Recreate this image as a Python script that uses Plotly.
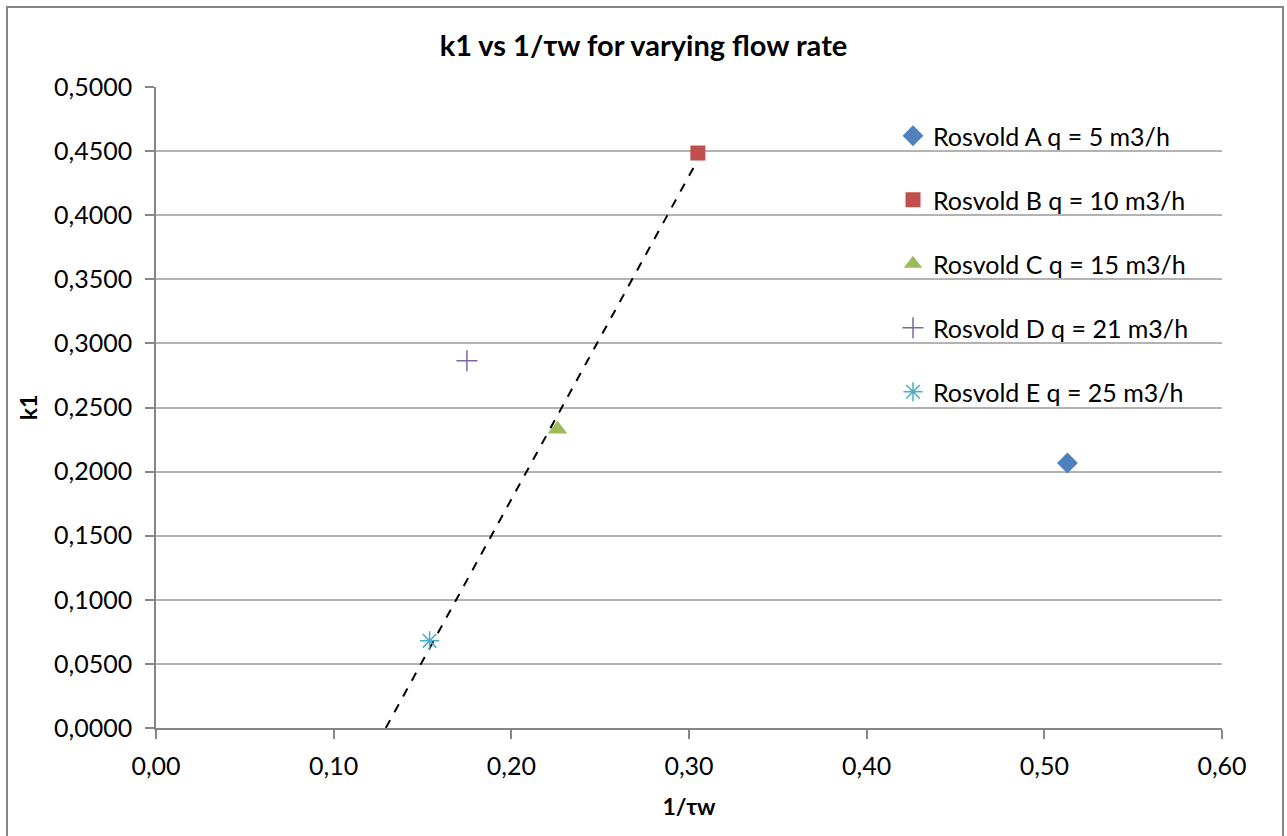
import numpy as np
import plotly.graph_objects as go

# Data
series_names = ["Rosvold A q = 5 m3/h", "Rosvold B q = 10 m3/h", "Rosvold C q = 15 m3/h",
                "Rosvold D q = 21 m3/h", "Rosvold E q = 25 m3/h"]
x_inv_tau = [0.513, 0.305, 0.226, 0.175, 0.154]
k1_values = [0.2067, 0.4485, 0.2330, 0.2865, 0.0680]
colors = ["#4F81BD", "#C0504D", "#9BBB59", "#8064A2", "#4BACC6"]
symbols = ["diamond", "square", "triangle-up", "cross-thin-open", "asterisk-open"]
sizes = [16, 15, 17, 15, 16]

# Trendline through B, C, E
trend_idx = [1, 2, 4]
x_tick_vals = [0.0, 0.1, 0.2, 0.3, 0.4, 0.5, 0.6]
x_tick_text = ["0,00", "0,10", "0,20", "0,30", "0,40", "0,50", "0,60"]
y_tick_vals = [0.0, 0.05, 0.1, 0.15, 0.2, 0.25, 0.3, 0.35, 0.4, 0.45, 0.5]
y_tick_text = ["0,0000", "0,0500", "0,1000", "0,1500", "0,2000", "0,2500",
               "0,3000", "0,3500", "0,4000", "0,4500", "0,5000"]

FONT = "Lato, 'Open Sans', sans-serif"

fig = go.Figure()

tx = np.array([x_inv_tau[i] for i in trend_idx])
ty = np.array([k1_values[i] for i in trend_idx])
slope, intercept = np.polyfit(tx, ty, 1)
x0 = -intercept / slope
x1 = tx.max()
fig.add_trace(go.Scatter(x=[x0, x1], y=[slope * x0 + intercept, slope * x1 + intercept],
                         mode="lines", line=dict(color="black", width=2, dash="dash"),
                         showlegend=False, hoverinfo="skip"))

for i, name in enumerate(series_names):
    thin = symbols[i].endswith("-open")
    fig.add_trace(go.Scatter(
        x=[x_inv_tau[i]], y=[k1_values[i]], mode="markers", name=name,
        legendgroup=f"g{i}",
        marker=dict(symbol=symbols[i], size=sizes[i], color=colors[i],
                    line=dict(color=colors[i], width=1.5 if thin else 0)),
    ))

L, R, T, B = 156, 65, 87, 108
W, H = 1287, 836
pw, ph = W - L - R, H - T - B

def px_x(p):
    return (p - L) / pw

def px_y(p):
    return (H - B - p) / ph

fig.update_layout(
    width=W, height=H,
    margin=dict(l=L, r=R, t=T, b=B),
    paper_bgcolor="white", plot_bgcolor="white",
    font=dict(family=FONT, size=25, color="black"),
    title=dict(text="<b>k1 vs 1/τw for varying flow rate</b>", x=0.5, xanchor="center",
               y=1 - 46 / H, yanchor="middle", font=dict(size=29, family=FONT)),
    xaxis=dict(range=[0, 0.6], tickvals=x_tick_vals, ticktext=x_tick_text,
               showgrid=False, zeroline=False, showline=True, linecolor="#868686", linewidth=1.5,
               ticks="outside", ticklen=9, tickcolor="#868686", tickwidth=1.5,
               ticklabelstandoff=6,
               title=dict(text="<b>1/τw</b>", font=dict(size=23), standoff=20)),
    yaxis=dict(range=[0, 0.5], tickvals=y_tick_vals, ticktext=y_tick_text,
               showgrid=True, gridcolor="#B3B3B3", gridwidth=1.5,
               zeroline=False, showline=True, linecolor="#868686", linewidth=1.5,
               ticks="outside", ticklen=9, tickcolor="#868686", tickwidth=1.5,
               ticklabelstandoff=8,
               title=dict(text="<b>k1</b>", font=dict(size=23), standoff=10)),
    legend=dict(x=px_x(893), y=px_y(113), xanchor="left", yanchor="top",
                bgcolor="rgba(255,255,255,0)", traceorder="grouped", tracegroupgap=28.5,
                font=dict(size=25), itemwidth=30),
    showlegend=True,
    shapes=[dict(type="rect", xref="paper", yref="paper",
                 x0=px_x(7), x1=px_x(1283), y0=px_y(845), y1=px_y(7),
                 line=dict(color="#868686", width=2), fillcolor="rgba(0,0,0,0)", layer="below")],
)

fig.write_html("out.html")
